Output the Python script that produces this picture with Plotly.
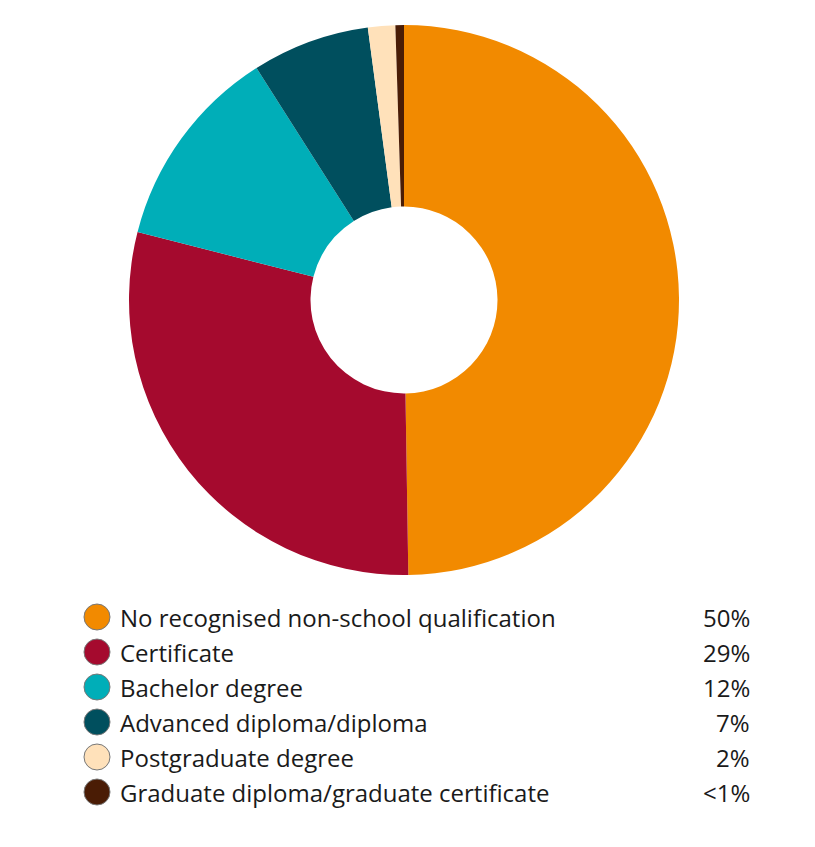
import plotly.graph_objects as go

categories = [
    "No recognised non-school qualification",
    "Certificate",
    "Bachelor degree",
    "Advanced diploma/diploma",
    "Postgraduate degree",
    "Graduate diploma/graduate certificate",
]
values = [49.7, 29.2, 12.0, 6.9, 1.6, 0.5]
pct_labels = ["50%", "29%", "12%", "7%", "2%", "<1%"]
colors = ["#F28A00", "#A50A2E", "#00AEB8", "#004F5E", "#FFE1BA", "#4A1C05"]

W, H = 815, 847
OFF = 8  # page body margin offset
fig = go.Figure()

fig.add_trace(go.Pie(
    labels=categories, values=values, sort=False, direction="clockwise",
    rotation=0, hole=0.34, textinfo="none", hoverinfo="label+percent",
    marker=dict(colors=colors, line=dict(width=0)),
    domain=dict(x=[(129 - OFF) / W, (679 - OFF) / W],
                y=[1 - (575 - OFF) / H, 1 - (25 - OFF) / H]),
    showlegend=False,
))

# legend drawn on a hidden pixel-scaled axis
row_y = [617 - OFF + 35 * i for i in range(len(categories))]
fig.add_trace(go.Scatter(
    x=[97 - OFF] * len(categories), y=row_y, mode="markers",
    marker=dict(size=26, color=colors, line=dict(color="#777777", width=1)),
    hoverinfo="skip", showlegend=False,
))
for cat, pct, y in zip(categories, pct_labels, row_y):
    fig.add_annotation(x=118 - OFF, y=y, xref="x", yref="y", text=cat, showarrow=False,
                       xanchor="left", yanchor="middle",
                       font=dict(family="Open Sans", size=24, color="#1a1a1a"))
    fig.add_annotation(x=752 - OFF, y=y, xref="x", yref="y", text=pct, showarrow=False,
                       xanchor="right", yanchor="middle",
                       font=dict(family="Open Sans", size=24, color="#1a1a1a"))

fig.update_layout(
    width=W, height=H, margin=dict(l=0, r=0, t=0, b=0),
    paper_bgcolor="white", plot_bgcolor="white",
    xaxis=dict(range=[0, W], visible=False, fixedrange=True),
    yaxis=dict(range=[H, 0], visible=False, fixedrange=True),
)

fig.write_html("out.html")
